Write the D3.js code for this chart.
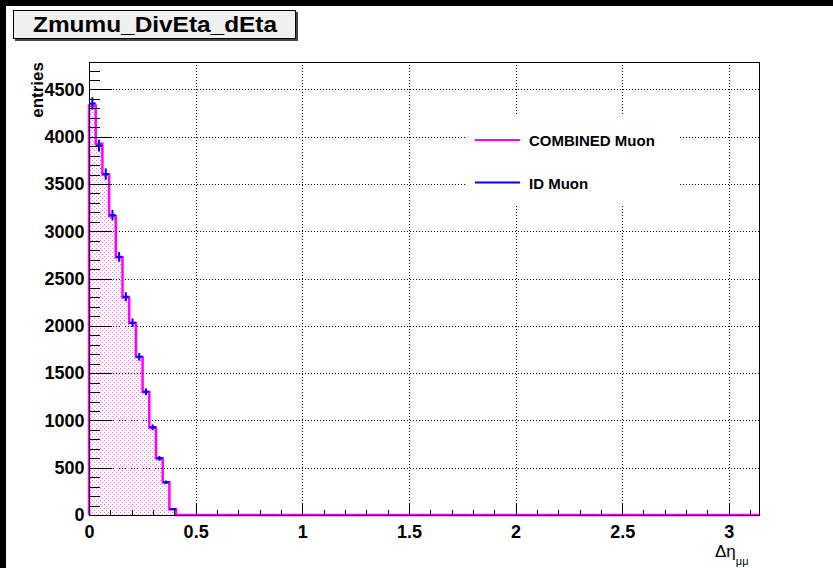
<!DOCTYPE html>
<html>
<head>
<meta charset="utf-8">
<script src="https://cdn.jsdelivr.net/npm/d3@7"></script>
<style>
  body { margin: 0; background: #fff; }
  text { font-family: "Liberation Sans", Arial, sans-serif; }
</style>
</head>
<body>
<div class="canvas"></div>
<script>
// histogram content, 100 bins between 0 and pi, only the first 13 are filled
const nBins = 100;
const xMax = Math.PI;
const combinedMuon = [4330, 3925, 3600, 3160, 2725, 2300, 2030, 1670, 1300, 925, 600, 345, 60];
const idMuon = [4352, 3905, 3605, 3171, 2730, 2308, 2033, 1673, 1303, 927, 599, 346, 63];

const xTicks = [0, 0.5, 1, 1.5, 2, 2.5, 3];
const xTickLabels = ['0', '0.5', '1', '1.5', '2', '2.5', '3'];
const yTicks = [0, 500, 1000, 1500, 2000, 2500, 3000, 3500, 4000, 4500];
const yTickLabels = ['0', '500', '1000', '1500', '2000', '2500', '3000', '3500', '4000', '4500'];
const legendNames = ['COMBINED Muon', 'ID Muon'];

const dims = {width: 833, height: 568};
const frame = {left: 89, right: 759, top: 62, bottom: 515};

const svg = d3.select('.canvas').append('svg')
    .attr('width', dims.width).attr('height', dims.height);

// black strips at the top and left of the picture
svg.append('rect').attr('x', 0).attr('y', 0).attr('width', dims.width).attr('height', 6).attr('fill', '#000');
svg.append('rect').attr('x', 0).attr('y', 0).attr('width', 6).attr('height', dims.height).attr('fill', '#000');

const x = d3.scaleLinear().domain([0, xMax]).range([frame.left, frame.right]);
const y = d3.scaleLinear().domain([0, 4790]).range([frame.bottom, frame.top]);
const binW = xMax / nBins;

// dotted fill pattern
const defs = svg.append('defs');
const pat = defs.append('pattern').attr('id', 'dots')
    .attr('patternUnits', 'userSpaceOnUse').attr('width', 4).attr('height', 4);
pat.append('rect').attr('x', 0).attr('y', 0).attr('width', 1).attr('height', 1).attr('fill', '#f070f0');
pat.append('rect').attr('x', 2).attr('y', 2).attr('width', 1).attr('height', 1).attr('fill', '#f070f0');

// grid
const grid = svg.append('g').attr('stroke', '#000').attr('stroke-dasharray', '1,2').attr('shape-rendering', 'crispEdges');
grid.selectAll('.vg').data(xTicks.filter(d => d > 0))
    .enter().append('line')
    .attr('x1', d => Math.round(x(d)) + 0.5).attr('x2', d => Math.round(x(d)) + 0.5)
    .attr('y1', frame.top).attr('y2', frame.bottom);
grid.selectAll('.hg').data(yTicks.filter(d => d > 0))
    .enter().append('line')
    .attr('y1', d => Math.round(y(d)) + 0.5).attr('y2', d => Math.round(y(d)) + 0.5)
    .attr('x1', frame.left).attr('x2', frame.right);

// step outline points
const stepPoints = (vals) => {
    const pts = [[0, 0]];
    vals.forEach((v, i) => {
        pts.push([i * binW, v]);
        pts.push([(i + 1) * binW, v]);
    });
    pts.push([vals.length * binW, 0]);
    pts.push([xMax, 0]);
    return pts;
};

const pts = stepPoints(combinedMuon);
svg.append('path')
    .attr('d', d3.area().x(d => x(d[0])).y0(y(0)).y1(d => y(d[1]))(pts))
    .attr('fill', 'url(#dots)');
svg.append('path')
    .attr('d', d3.line().x(d => x(d[0])).y(d => y(d[1]))(pts))
    .attr('fill', 'none').attr('stroke', '#ff00ff').attr('stroke-width', 2.5);

// ID muon error crosses
const errs = svg.append('g').attr('stroke', '#0000ff').attr('stroke-width', 2);
idMuon.forEach((v, i) => {
    const e = Math.sqrt(v);
    errs.append('line')
        .attr('x1', x(i * binW)).attr('x2', x((i + 1) * binW))
        .attr('y1', y(v)).attr('y2', y(v));
    errs.append('line')
        .attr('x1', x((i + 0.5) * binW)).attr('x2', x((i + 0.5) * binW))
        .attr('y1', y(Math.max(v - e, 0))).attr('y2', y(v + e));
});

// frame
svg.append('rect')
    .attr('x', frame.left + 0.5).attr('y', frame.top + 0.5)
    .attr('width', frame.right - frame.left).attr('height', frame.bottom - frame.top)
    .attr('fill', 'none').attr('stroke', '#000').attr('shape-rendering', 'crispEdges');

// axes, ticks inside the frame
const fmtX = d => xTickLabels[xTicks.indexOf(d)];
const fmtY = d => yTickLabels[yTicks.indexOf(d)];

const xMinor = d3.range(0, 32).map(i => i / 10).filter(d => d <= xMax);
svg.append('g').attr('transform', `translate(0,${frame.bottom + 0.5})`)
    .call(d3.axisBottom(x).tickValues(xMinor).tickSize(-6).tickFormat(''));
svg.append('g').attr('class', 'xaxis').attr('transform', `translate(0,${frame.bottom + 0.5})`)
    .call(d3.axisBottom(x).tickValues(xTicks).tickSize(-13).tickPadding(10).tickFormat(fmtX));

const yMinor = d3.range(0, 48).map(i => i * 100);
svg.append('g').attr('transform', `translate(${frame.left + 0.5},0)`)
    .call(d3.axisLeft(y).tickValues(yMinor).tickSize(-10).tickFormat(''));
svg.append('g').attr('class', 'yaxis').attr('transform', `translate(${frame.left + 0.5},0)`)
    .call(d3.axisLeft(y).tickValues(yTicks).tickSize(-22).tickPadding(5).tickFormat(fmtY));

svg.selectAll('.domain').remove();
svg.selectAll('.tick line').attr('stroke', '#000').attr('shape-rendering', 'crispEdges');
svg.selectAll('.xaxis text, .yaxis text')
    .attr('fill', '#000').attr('font-size', 18).attr('font-weight', 'bold')
    .attr('font-family', '"Liberation Sans", Arial, sans-serif');

// axis titles
svg.append('text')
    .attr('transform', `translate(43,${frame.top}) rotate(-90)`)
    .attr('text-anchor', 'end')
    .attr('font-size', 17).attr('font-weight', 'bold')
    .text('entries');

const xt = svg.append('text').attr('x', 715).attr('y', 557).attr('font-size', 17);
xt.append('tspan').text('Δη');
xt.append('tspan').attr('font-size', 11).attr('dy', 8).text('μμ');

// legend, white box without border hides the grid
svg.append('rect').attr('x', 466).attr('y', 116).attr('width', 214).attr('height', 88).attr('fill', '#fff');
const legColors = ['#ff00ff', '#0000ff'];
const leg = svg.selectAll('.leg').data(legendNames).enter().append('g')
    .attr('transform', (d, i) => `translate(0,${140 + i * 42.5})`);
leg.append('line').attr('x1', 475).attr('x2', 520).attr('y1', 0).attr('y2', 0)
    .attr('stroke', (d, i) => legColors[i]).attr('stroke-width', 2);
leg.append('text').attr('x', 529).attr('y', 6)
    .attr('font-size', 15).attr('font-weight', 'bold')
    .text(d => d);

// title box with shadow
svg.append('rect').attr('x', 15).attr('y', 12).attr('width', 283).attr('height', 29).attr('fill', '#444');
svg.append('rect').attr('x', 13.5).attr('y', 10.5).attr('width', 282).attr('height', 28)
    .attr('fill', '#f0f0f0').attr('stroke', '#000');
svg.append('text').attr('x', 155).attr('y', 32)
    .attr('text-anchor', 'middle').attr('font-size', 22).attr('font-weight', 'bold')
    .attr('textLength', 244).attr('lengthAdjust', 'spacingAndGlyphs')
    .text('Zmumu_DivEta_dEta');
</script>
</body>
</html>
